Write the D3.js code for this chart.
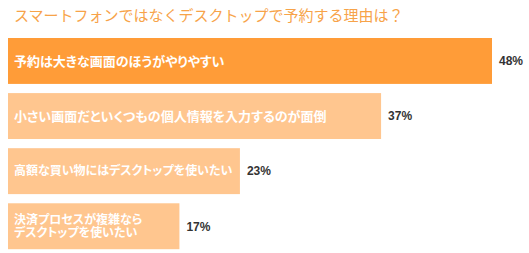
<!DOCTYPE html>
<html>
<head>
<meta charset="utf-8">
<script src="https://cdn.jsdelivr.net/npm/d3@7"></script>
<style>
  body { margin: 0; background: #fff; }
  .inbar { font-feature-settings: "palt"; }
</style>
</head>
<body>
<div id="chart"></div>
<script>
// data
let title = "スマートフォンではなくデスクトップで予約する理由は？";
let reasons = [
    ["予約は大きな画面のほうがやりやすい"],
    ["小さい画面だといくつもの個人情報を入力するのが面倒"],
    ["高額な買い物にはデスクトップを使いたい"],
    ["決済プロセスが複雑なら", "デスクトップを使いたい"]
];
let shares = [48, 37, 23, 17];

// font size of the text inside each bar
let inBarSize = [13, 13, 12, 12];

let width = 529;
let height = 253;
let margin = { top: 38, left: 8 };

let svg = d3.select("#chart").append("svg").attr("width", width).attr("height", height);

// title
svg.append("text").attr("x", 14).attr("y", 21)
    .attr("font-family", "'Noto Sans CJK JP', sans-serif")
    .attr("font-size", "15px")
    .attr("fill", "#f7a349")
    .text(title);

let xScale = d3.scaleLinear().domain([0, 48]).range([0, 484]);
let yScale = d3.scaleBand().domain(d3.range(shares.length))
    .range([margin.top, margin.top + 52.8 * shares.length]).paddingInner(8.8 / 52.8).paddingOuter(0);

let rows = svg.selectAll("g.row").data(shares).enter().append("g").attr("class", "row");

rows.append("rect")
    .attr("x", margin.left)
    .attr("y", (d, i) => yScale(i))
    .attr("width", d => xScale(d))
    .attr("height", yScale.bandwidth())
    .attr("fill", (d, i) => i === 0 ? "#ff9c38" : "#ffc68f");

// text inside the bars
rows.append("text")
    .attr("class", "inbar")
    .attr("font-family", "'Noto Sans CJK JP', sans-serif")
    .attr("font-weight", "bold")
    .attr("font-size", (d, i) => inBarSize[i] + "px")
    .attr("fill", "#fff")
    .each(function(d, i) {
        let lines = reasons[i];
        let cy = yScale(i) + yScale.bandwidth() / 2;
        let lh = 13;
        d3.select(this).selectAll("tspan").data(lines).enter().append("tspan")
            .attr("x", margin.left + 6)
            .attr("y", (l, j) => cy + (j - (lines.length - 1) / 2) * lh)
            .attr("dy", "0.36em")
            .text(l => l);
    });

// value labels
rows.append("text")
    .attr("x", d => margin.left + xScale(d) + 7)
    .attr("y", (d, i) => yScale(i) + yScale.bandwidth() / 2)
    .attr("dy", "0.36em")
    .attr("font-family", "'Liberation Sans', Arial, sans-serif")
    .attr("font-weight", "bold")
    .attr("font-size", "12px")
    .attr("fill", "#333")
    .text(d => d + "%");
</script>
</body>
</html>
